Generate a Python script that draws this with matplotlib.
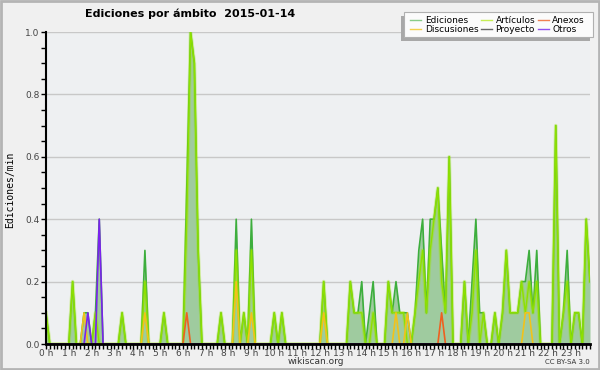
import matplotlib.pyplot as plt
import matplotlib.patches as mpatches
import numpy as np

# edits per minute, one value per 10 minutes (0:00 .. 23:50)
ediciones = [
    0.1, 0, 0, 0, 0, 0, 0, 0.2, 0, 0, 0.1, 0.1,
    0, 0.1, 0.4, 0, 0, 0, 0, 0, 0.1, 0, 0, 0,
    0, 0, 0.3, 0, 0, 0, 0, 0.1, 0, 0, 0, 0,
    0, 0.5, 1.0, 0.9, 0.3, 0, 0, 0, 0, 0, 0.1, 0,
    0, 0, 0.4, 0, 0.1, 0, 0.4, 0, 0, 0, 0, 0,
    0.1, 0, 0.1, 0, 0, 0, 0, 0, 0, 0, 0, 0,
    0, 0.2, 0, 0, 0, 0, 0, 0, 0.2, 0.1, 0.1, 0.2,
    0, 0.1, 0.2, 0, 0, 0, 0.2, 0.1, 0.2, 0.1, 0.1, 0.1,
    0, 0.1, 0.3, 0.4, 0.1, 0.4, 0.4, 0.5, 0.3, 0.1, 0.6, 0,
    0, 0, 0.2, 0, 0.2, 0.4, 0.1, 0.1, 0, 0, 0.1, 0,
    0.1, 0.3, 0.1, 0.1, 0.1, 0.2, 0.2, 0.3, 0.1, 0.3, 0, 0,
    0, 0, 0.7, 0, 0.1, 0.3, 0, 0.1, 0.1, 0, 0.4, 0.2,
]
articulos = [
    0.1, 0, 0, 0, 0, 0, 0, 0.2, 0, 0, 0, 0,
    0, 0.1, 0, 0, 0, 0, 0, 0, 0.1, 0, 0, 0,
    0, 0, 0.2, 0, 0, 0, 0, 0.1, 0, 0, 0, 0,
    0, 0.4, 1.0, 0.9, 0.3, 0, 0, 0, 0, 0, 0.1, 0,
    0, 0, 0.3, 0, 0.1, 0, 0.3, 0, 0, 0, 0, 0,
    0.1, 0, 0.1, 0, 0, 0, 0, 0, 0, 0, 0, 0,
    0, 0.2, 0, 0, 0, 0, 0, 0, 0.2, 0.1, 0.1, 0.1,
    0, 0, 0.1, 0, 0, 0, 0.2, 0.1, 0.1, 0.1, 0.1, 0,
    0, 0.1, 0.2, 0.3, 0.1, 0.3, 0.4, 0.5, 0.2, 0.1, 0.6, 0,
    0, 0, 0.2, 0, 0.1, 0.3, 0, 0.1, 0, 0, 0.1, 0,
    0.1, 0.3, 0.1, 0.1, 0.1, 0.2, 0.1, 0.2, 0.1, 0.2, 0, 0,
    0, 0, 0.7, 0, 0.1, 0.2, 0, 0.1, 0.1, 0, 0.4, 0.2,
]
discusiones = [
    0, 0, 0, 0, 0, 0, 0, 0, 0, 0, 0.1, 0,
    0, 0, 0, 0, 0, 0, 0, 0, 0, 0, 0, 0,
    0, 0, 0.1, 0, 0, 0, 0, 0, 0, 0, 0, 0,
    0, 0, 0, 0, 0, 0, 0, 0, 0, 0, 0, 0,
    0, 0, 0.2, 0, 0, 0, 0.1, 0, 0, 0, 0, 0,
    0, 0, 0, 0, 0, 0, 0, 0, 0, 0, 0, 0,
    0, 0.1, 0, 0, 0, 0, 0, 0, 0, 0, 0, 0,
    0, 0, 0, 0, 0, 0, 0, 0, 0.1, 0, 0, 0.1,
    0, 0, 0, 0, 0, 0, 0, 0, 0, 0, 0, 0,
    0, 0, 0, 0, 0, 0, 0, 0, 0, 0, 0, 0,
    0, 0, 0, 0, 0, 0, 0.1, 0.1, 0, 0, 0, 0,
    0, 0, 0, 0, 0, 0, 0, 0, 0, 0, 0, 0,
]
anexos = [
    0, 0, 0, 0, 0, 0, 0, 0, 0, 0, 0, 0,
    0, 0, 0, 0, 0, 0, 0, 0, 0, 0, 0, 0,
    0, 0, 0, 0, 0, 0, 0, 0, 0, 0, 0, 0,
    0, 0.1, 0, 0, 0, 0, 0, 0, 0, 0, 0, 0,
    0, 0, 0, 0, 0, 0, 0, 0, 0, 0, 0, 0,
    0, 0, 0, 0, 0, 0, 0, 0, 0, 0, 0, 0,
    0, 0, 0, 0, 0, 0, 0, 0, 0, 0, 0, 0,
    0, 0, 0, 0, 0, 0, 0, 0, 0, 0, 0, 0,
    0, 0, 0, 0, 0, 0, 0, 0, 0.1, 0, 0, 0,
    0, 0, 0, 0, 0, 0, 0, 0, 0, 0, 0, 0,
    0, 0, 0, 0, 0, 0, 0, 0, 0, 0, 0, 0,
    0, 0, 0, 0, 0, 0, 0, 0, 0, 0, 0, 0,
]
otros = [
    0, 0, 0, 0, 0, 0, 0, 0, 0, 0, 0, 0.1,
    0, 0, 0.4, 0, 0, 0, 0, 0, 0, 0, 0, 0,
] + [0] * 120
proyecto = [0] * 144

hour_labels = [f"{h} h" for h in range(24)]

x = np.arange(len(ediciones))

fig = plt.figure(figsize=(6, 3.7), dpi=100, facecolor='#f0f0f0')
ax = fig.add_axes([46 / 600, 26 / 370, 544 / 600, 312 / 370])
ax.set_facecolor('#eef0f2')

# grey frame round the picture
fig.patches.append(mpatches.Rectangle((0.001, 0.002), 0.997, 0.995, transform=fig.transFigure,
                                      fill=False, edgecolor='#b4b4b4', lw=2))

ax.fill_between(x, ediciones, color='#9fcb9f', lw=0)
ax.plot(x, ediciones, color='#3dae3d', lw=1.2)
ax.plot(x, articulos, color='#9be600', lw=2.6, alpha=0.35)
ax.plot(x, articulos, color='#8ee000', lw=1.0)
ax.plot(x, proyecto, color='#555555', lw=1.0)
ax.plot(x, discusiones, color='#f2c21a', lw=1.2)
ax.plot(x, anexos, color='#ee6020', lw=1.2)
ax.plot(x, otros, color='#7a22ee', lw=1.2)

ax.set_xlim(0, 143)
ax.set_ylim(0, 1.0)
ax.set_xticks(np.arange(0, 144, 6))
ax.set_xticklabels(hour_labels)
ax.set_xticks(np.arange(0, 144, 1), minor=True)
ax.set_yticks(np.arange(0, 1.01, 0.2))
ax.set_yticklabels([f"{v:.1f}" for v in np.arange(0, 1.01, 0.2)])
ax.set_yticks(np.arange(0, 1.01, 0.05), minor=True)
ax.tick_params(axis='both', which='both', direction='out', length=3.5, width=1, color='black',
               labelsize=6.5, labelcolor='#444444', pad=1)
ax.tick_params(axis='x', which='major', pad=0)
ax.grid(axis='y', which='major', color='#c8c8c8', lw=1)
ax.set_axisbelow(True)
for s in ['top', 'right']:
    ax.spines[s].set_visible(False)
ax.spines['left'].set_linewidth(1.5)
ax.spines['bottom'].set_linewidth(2)

fig.text(10 / 600, 1 - 190 / 370, 'Ediciones/min', rotation=90, va='center', ha='center',
         family='DejaVu Sans Mono', fontsize=7)
fig.text(85 / 600, 1 - 14 / 370, 'Ediciones por ámbito  2015-01-14', fontsize=8,
         fontweight='bold', va='center', ha='left')
fig.text(316 / 600, 1 - 361 / 370, 'wikiscan.org', fontsize=6.5, color='#333333',
         ha='center', va='center')
fig.text(590 / 600, 1 - 362 / 370, 'CC BY-SA 3.0', fontsize=5, color='#333333',
         ha='right', va='center')

# legend box with its shadow
fig.patches.append(mpatches.Rectangle((401 / 600, 1 - 41 / 370), 189 / 600, 25 / 370,
                                      transform=fig.transFigure, facecolor='#a8a8a8',
                                      edgecolor='none'))
fig.patches.append(mpatches.Rectangle((404 / 600, 1 - 37 / 370), 189 / 600, 25 / 370,
                                      transform=fig.transFigure, facecolor='#fbfbfb',
                                      edgecolor='#b0b0b0', lw=0.8))
handles = [
    plt.Line2D([], [], color='#88cc88', lw=1),
    plt.Line2D([], [], color='#f2d04a', lw=1),
    plt.Line2D([], [], color='#c6ee55', lw=1),
    plt.Line2D([], [], color='#666666', lw=1),
    plt.Line2D([], [], color='#f08050', lw=1),
    plt.Line2D([], [], color='#9050ee', lw=1),
]
names = ['Ediciones', 'Discusiones', 'Artículos', 'Proyecto', 'Anexos', 'Otros']
fig.legend(handles, names, ncol=3, loc='upper left', bbox_to_anchor=(403 / 600, 1 - 9 / 370),
           frameon=False, fontsize=6.5, handlelength=1.2, handletextpad=0.4,
           columnspacing=0.3, labelspacing=0.0, borderpad=0.3)

fig.savefig('out.png', dpi=100, facecolor=fig.get_facecolor())
